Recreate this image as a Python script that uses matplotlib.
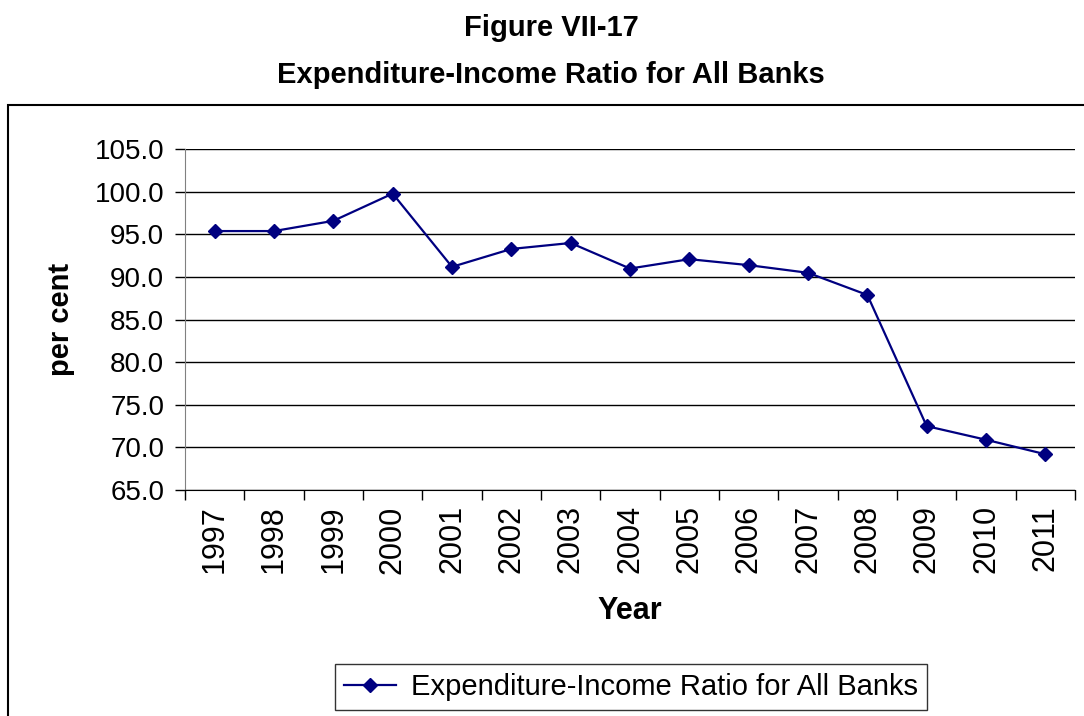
import matplotlib.pyplot as plt
import numpy as np
from matplotlib.patches import Rectangle

plt.rcParams['font.family'] = ['Liberation Sans', 'DejaVu Sans']

years = ["1997", "1998", "1999", "2000", "2001", "2002", "2003", "2004",
         "2005", "2006", "2007", "2008", "2009", "2010", "2011"]
ratio = [95.4, 95.4, 96.6, 99.8, 91.2, 93.3, 94.0, 91.0,
         92.1, 91.4, 90.5, 87.9, 72.5, 70.9, 69.2]
series_name = "Expenditure-Income Ratio for All Banks"

W, H = 1084, 716
fig = plt.figure(figsize=(W / 100, H / 100), dpi=100)
ax = fig.add_axes([185 / W, 1 - 490 / H, 890 / W, (490 - 149.3) / H])

x = np.arange(len(years))
line, = ax.plot(x, ratio, color='#000080', lw=1.6, marker='D', ms=7.5,
                markerfacecolor='#000080', markeredgecolor='#000080')

ax.set_xlim(-0.5, len(years) - 0.5)
ax.set_ylim(65, 105)
ax.set_yticks(np.arange(65, 106, 5))
ax.set_yticklabels([f"{v:.1f}" for v in np.arange(65, 106, 5)], fontsize=20)
ax.yaxis.grid(True, color='#000000', lw=1.0)
ax.set_axisbelow(True)

ax.set_xticks(x)
ax.set_xticklabels(years, rotation=90, fontsize=22)
ax.set_xticks(np.arange(-0.5, len(years), 1), minor=True)
ax.tick_params(axis='x', which='major', length=0, pad=11)
ax.tick_params(axis='x', which='minor', length=7, width=1, color='#000000', direction='out')
ax.tick_params(axis='y', length=7, width=1, color='#000000', direction='out', pad=8)

for s in ['top', 'right']:
    ax.spines[s].set_visible(False)
ax.spines['left'].set_color('#808080')
ax.spines['bottom'].set_color('#000000')

ax.set_ylabel("per cent", fontsize=21, fontweight='bold', labelpad=14)
ax.set_xlabel("Year", fontsize=22, fontweight='bold', labelpad=16)

fig.text(0.5085, 1 - 28 / H, "Figure VII-17", ha='center', va='center',
         fontsize=21, fontweight='bold')
fig.text(0.5085, 1 - 75 / H, "Expenditure-Income Ratio for All Banks",
         ha='center', va='center', fontsize=21, fontweight='bold')

fig.patches.append(Rectangle((8 / W, -0.05), 1.05, 1 - 105 / H + 0.05,
                             transform=fig.transFigure, fill=False,
                             edgecolor='#000000', lw=1.5))

leg = fig.legend([line], [series_name], loc='center',
                 bbox_to_anchor=(631 / W, 1 - 687 / H), fontsize=21,
                 frameon=True, fancybox=False, edgecolor='#000000',
                 handlelength=1.8, borderpad=0.3, handletextpad=0.5)
leg.get_frame().set_linewidth(1.0)

fig.savefig("out.png", dpi=100)
